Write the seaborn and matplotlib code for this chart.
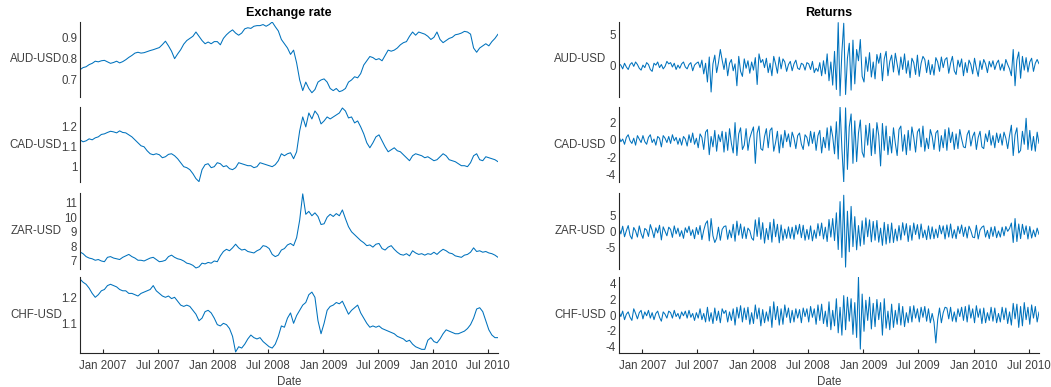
import numpy as np
import pandas as pd
import matplotlib
matplotlib.use("Agg")
import matplotlib.pyplot as plt
import matplotlib.dates as mdates
import seaborn as sns

# ---------------- data ----------------
start_date = "2006-10-16"
end_date = "2010-08-04"
pairs = ["AUD-USD", "CAD-USD", "ZAR-USD", "CHF-USD"]

# exchange-rate levels, ~3 readings per month (Oct 2006 .. Aug 2010)
aud_level = [0.748, 0.758,
    0.762, 0.772, 0.778, 0.788, 0.785, 0.790, 0.792, 0.785, 0.778, 0.782, 0.788, 0.780,
    0.786, 0.795, 0.806, 0.815, 0.826, 0.830, 0.826, 0.828, 0.833, 0.838, 0.842, 0.847,
    0.852, 0.866, 0.882, 0.860, 0.835, 0.800, 0.822, 0.842, 0.868, 0.885, 0.895, 0.905,
    0.925, 0.905, 0.885, 0.870, 0.878, 0.870, 0.880, 0.880, 0.865, 0.895, 0.912, 0.925,
    0.935, 0.920, 0.910, 0.920, 0.940, 0.945, 0.942, 0.952, 0.955, 0.955, 0.960, 0.952,
    0.960, 0.972, 0.950, 0.930, 0.890, 0.870, 0.850, 0.820, 0.840, 0.780, 0.700, 0.650,
    0.690, 0.660, 0.640, 0.655, 0.690, 0.700, 0.705, 0.690, 0.660, 0.650, 0.660, 0.645,
    0.650, 0.660, 0.690, 0.700, 0.715, 0.710, 0.730, 0.770, 0.790, 0.810, 0.805, 0.795,
    0.800, 0.790, 0.815, 0.840, 0.835, 0.840, 0.850, 0.865, 0.875, 0.880, 0.905, 0.925,
    0.910, 0.925, 0.920, 0.915, 0.905, 0.890, 0.900, 0.925, 0.890, 0.875, 0.885, 0.895,
    0.900, 0.912, 0.915, 0.920, 0.928, 0.925, 0.915, 0.850, 0.830, 0.850, 0.860, 0.870,
    0.860, 0.880, 0.895, 0.915]
cad_level = [1.135, 1.125,
    1.130, 1.140, 1.135, 1.145, 1.150, 1.162, 1.165, 1.172, 1.178, 1.175, 1.170, 1.180,
    1.172, 1.170, 1.160, 1.150, 1.135, 1.120, 1.105, 1.100, 1.080, 1.065, 1.060, 1.065,
    1.060, 1.045, 1.050, 1.062, 1.065, 1.055, 1.040, 1.020, 1.000, 0.995, 0.985, 0.965,
    0.940, 0.925, 0.985, 1.010, 1.015, 0.995, 1.000, 1.020, 1.015, 1.000, 1.005, 0.990,
    0.985, 0.995, 1.020, 1.015, 1.010, 1.005, 1.005, 0.995, 1.000, 1.020, 1.015, 1.010,
    1.005, 1.000, 1.010, 1.030, 1.065, 1.055, 1.065, 1.070, 1.040, 1.075, 1.180, 1.250,
    1.200, 1.270, 1.240, 1.280, 1.260, 1.215, 1.230, 1.250, 1.240, 1.250, 1.260, 1.270,
    1.295, 1.280, 1.245, 1.250, 1.220, 1.230, 1.200, 1.165, 1.120, 1.095, 1.120, 1.150,
    1.160, 1.130, 1.100, 1.075, 1.085, 1.095, 1.080, 1.075, 1.060, 1.045, 1.030, 1.055,
    1.065, 1.060, 1.055, 1.045, 1.050, 1.040, 1.030, 1.035, 1.050, 1.065, 1.055, 1.035,
    1.030, 1.025, 1.015, 1.005, 1.005, 1.000, 1.020, 1.055, 1.065, 1.035, 1.030, 1.050,
    1.045, 1.040, 1.035, 1.025]
zar_level = [7.62, 7.50,
    7.30, 7.20, 7.15, 7.05, 7.10, 7.00, 6.95, 7.25, 7.30, 7.20, 7.15, 7.10,
    7.25, 7.35, 7.45, 7.30, 7.20, 7.05, 7.05, 7.00, 7.10, 7.20, 7.25, 7.10,
    6.95, 6.98, 7.05, 7.30, 7.40, 7.25, 7.15, 7.10, 7.00, 6.85, 6.80, 6.70,
    6.52, 6.60, 6.85, 6.80, 6.90, 6.85, 7.00, 6.95, 7.35, 7.65, 7.80, 7.70,
    7.90, 8.15, 7.90, 7.75, 7.80, 7.65, 7.60, 7.55, 7.70, 7.80, 8.05, 8.00,
    7.85, 7.45, 7.30, 7.40, 7.75, 7.85, 8.10, 8.20, 8.05, 8.60, 9.80, 11.60,
    10.20, 10.40, 10.10, 10.30, 10.05, 9.50, 9.55, 10.00, 10.20, 10.05, 10.25, 10.10,
    10.50, 9.90, 9.35, 9.00, 8.80, 8.60, 8.40, 8.25, 8.05, 8.10, 7.95, 8.15,
    8.20, 7.85, 7.75, 7.95, 8.05, 7.80, 7.60, 7.45, 7.40, 7.50, 7.35, 7.70,
    7.55, 7.45, 7.50, 7.40, 7.50, 7.45, 7.60, 7.45, 7.65, 7.80, 7.70, 7.55,
    7.50, 7.35, 7.30, 7.25, 7.40, 7.45, 7.60, 7.90, 7.65, 7.70, 7.60, 7.65,
    7.55, 7.50, 7.40, 7.25]
chf_level = [1.270, 1.258,
    1.250, 1.235, 1.215, 1.200, 1.210, 1.225, 1.230, 1.245, 1.250, 1.245, 1.240, 1.230,
    1.225, 1.225, 1.215, 1.215, 1.210, 1.205, 1.215, 1.220, 1.225, 1.230, 1.245, 1.225,
    1.215, 1.205, 1.200, 1.205, 1.195, 1.200, 1.185, 1.170, 1.165, 1.170, 1.165, 1.150,
    1.135, 1.110, 1.120, 1.145, 1.150, 1.140, 1.120, 1.095, 1.090, 1.100, 1.095, 1.080,
    1.050, 0.990, 1.010, 1.005, 1.020, 1.040, 1.055, 1.045, 1.040, 1.045, 1.030, 1.020,
    1.010, 1.005, 1.020, 1.050, 1.090, 1.085, 1.120, 1.140, 1.100, 1.130, 1.150, 1.170,
    1.180, 1.210, 1.220, 1.200, 1.110, 1.060, 1.100, 1.150, 1.165, 1.170, 1.180, 1.175,
    1.185, 1.160, 1.135, 1.150, 1.160, 1.170, 1.140, 1.120, 1.100, 1.085, 1.090, 1.085,
    1.090, 1.080, 1.075, 1.070, 1.065, 1.060, 1.050, 1.045, 1.040, 1.030, 1.035, 1.020,
    1.010, 1.005, 1.000, 1.000, 1.035, 1.045, 1.030, 1.025, 1.040, 1.060, 1.075, 1.070,
    1.065, 1.060, 1.060, 1.065, 1.070, 1.080, 1.095, 1.120, 1.155, 1.160, 1.145, 1.110,
    1.075, 1.055, 1.045, 1.045]

# returns (%), ~5 readings per month
aud_ret = [0.3, 0.1, -0.5,
    0.4, -0.2, -0.6, 0.2, 0.5,   -0.1, 0.6, 0.2, -0.4, -0.7,
    0.1, -0.3, 0.5, 0.2, -0.6,   -0.9, 0.4, 0.1, 0.6, -0.3,   0.2, -0.5, -0.1, 0.7, 0.3,
    0.5, -0.2, 0.4, -0.6, 0.1,   -0.4, 0.3, 0.6, -0.2, -0.5,  0.2, 0.5, -0.8, 0.1, 0.4,
    0.6, -0.3, 0.9, -1.3, 0.4,   -2.6, 1.4, -4.2, 0.3, 1.7,   -1.1, 0.5, 2.6, 0.9, -0.6,
    1.2, -1.6, 0.4, 1.0, -0.8,   0.3, -3.2, 1.5, -0.9, -1.7,  1.1, -0.4, 0.8, -1.2, 0.6,
    -0.7, 1.3, -3.0, 1.9, 0.5,   1.0, -0.3, 1.2, -1.1, 0.4,   -1.6, 1.5, 0.3, -1.2, 1.4,
    -0.5, 1.1, 0.6, -0.9, 0.2,   0.7, -0.8, 0.3, 0.9, -0.4,   -0.6, 0.4, 0.2, -0.7, 0.5,
    0.3, -0.6, 0.7, -1.1, -0.4,  -0.9, 0.5, -1.6, 0.8, -1.3,  1.9, -2.4, 0.6, -3.1, 2.3,
    -3.8, 6.9, -4.8, 2.2, 6.8,   -4.6, 1.2, 3.6, -3.9, 4.1,   -2.9, 2.6, 0.8, 4.2, -1.7,
    -2.6, 1.4, -0.9, 2.1, -1.8,  0.6, -2.1, 1.8, 0.4, 2.0,    -2.4, 1.1, 2.3, -1.6, 0.7,
    1.7, -1.0, 2.0, 0.3, -1.5,   1.4, -0.6, 1.9, -1.2, 0.8,   -1.9, 1.2, 0.5, -1.4, 1.7,
    -1.7, 0.4, 1.5, 1.0, -1.1,   0.9, -1.4, 0.2, -1.5, 1.3,   0.6, -0.9, 1.4, -0.3, 1.0,
    1.3, -1.2, 0.4, 1.5, -0.8,   -1.4, 0.9, -0.2, 1.1, -1.6,  0.5, -1.1, 0.9, 0.2, -1.3,
    1.2, -0.4, -1.7, 0.8, -0.6,  1.0, 0.3, -1.1, 0.7, -0.2,   0.8, -0.6, 0.4, 0.9, -0.7,
    0.3, -0.8, 1.0, 0.2, -0.5,   -1.6, 2.6, -3.2, 0.9, 2.2,   -2.0, 1.5, -0.7, 1.3, -1.0,
    0.6, 1.2, -0.9, 0.4, 1.0,
    0.3]
cad_ret = [0.4, -0.2, 0.1,
    -0.5, 0.3, 0.6, -0.1, -0.4,  0.2, -0.6, 0.5, 0.1, -0.3,
    0.5, -0.2, -0.5, 0.3, 0.6,   -0.3, 0.1, -0.6, 0.4, 0.2,   -0.8, 0.5, 0.2, -0.3, 0.4,
    -0.4, 0.6, -0.1, 0.3, -0.5,  0.2, -0.6, 0.4, 0.1, -0.7,   0.6, -0.3, 0.8, -0.5, 0.2,
    -0.9, 0.7, 0.3, -1.1, 0.9,   1.2, -1.7, 0.4, -0.8, 1.1,   -1.3, 0.6, -0.2, 1.0, -1.4,
    0.9, -1.2, 1.3, -0.4, -1.5,  2.0, -1.8, 0.7, 1.4, -1.1,   -0.6, 1.3, -1.2, 0.2, 0.9,
    1.5, -2.7, 0.8, 1.6, -1.0,   -1.2, 0.4, 1.3, -0.9, 1.1,   1.4, -1.3, -0.3, 1.0, -1.5,
    0.6, -0.9, 1.1, -0.2, 0.7,   -0.8, 0.9, 0.2, -1.0, 0.5,   0.8, -0.5, -1.1, 0.6, 0.3,
    -0.7, 1.0, -0.4, 0.9, -1.2,  0.5, 1.1, -1.5, 0.3, -0.9,   1.4, -1.2, 1.6, 0.4, -1.6,
    2.1, -2.2, 3.8, -1.0, -4.9,  3.7, -3.4, 1.5, 3.0, -2.7,   2.2, -2.5, 0.8, 2.3, -1.4,
    -2.0, 1.7, -0.6, 1.9, -1.8,  1.3, -1.6, 2.0, 0.5, -3.0,   1.9, -1.2, 1.6, -1.7, 0.4,
    -1.5, 1.4, -0.4, -1.8, 1.2,  1.6, -1.3, 0.6, -1.7, 1.1,   -1.2, 1.5, 0.3, -1.4, 0.9,
    1.3, -0.8, 1.6, -1.3, 0.2,   -1.0, 1.2, 0.4, -1.1, 0.8,   1.1, -1.3, 0.5, -0.9, 1.2,
    -1.2, 1.4, -0.3, 0.9, -1.1,  0.7, -1.0, 1.2, 0.1, -0.8,   -0.9, 0.6, 1.1, -0.7, 0.4,
    0.9, -1.1, 0.3, 1.0, -0.8,   -1.0, 0.7, -0.2, 1.1, -0.6,  0.5, -0.9, 0.8, -0.3, 0.7,
    -0.6, 0.9, 0.2, -1.0, 0.5,   1.7, -1.8, 0.6, 1.4, -1.5,   -1.2, 1.0, -0.5, 2.5, -1.1,
    1.1, -1.2, 0.4, -1.3, 0.9,
    -0.4]
zar_ret = [1.2, -0.6, 1.8,
    -1.5, 0.4, 2.0, -1.1, -2.2,  1.4, 0.3, -1.6, 1.9, -0.5,
    -2.0, 1.1, 0.6, -1.4, 2.3,   0.5, -1.8, 1.3, -0.3, 2.1,   -2.5, 1.6, 0.2, -1.2, 1.5,
    0.8, -1.7, 1.9, -0.6, 1.2,   -1.4, 0.4, -2.0, 1.3, -0.2,  1.8, -1.1, 0.7, -2.1, 1.4,
    -0.8, 2.0, -2.4, 0.5, 2.6,   3.5, -2.8, 4.2, -1.2, -3.3,  -2.0, 1.5, -2.6, 0.8, 1.7,
    1.9, -2.3, 0.6, -1.8, 2.4,   -2.9, 3.4, -1.0, 2.5, -2.0,  1.6, -2.1, 1.2, 0.4, -1.9,
    -2.6, 3.8, -1.4, 4.5, -2.3,  2.9, -3.5, 1.1, -2.4, 3.0,   -3.2, 4.0, -1.5, 2.4, -3.4,
    2.2, -2.6, 0.9, -2.0, 1.6,   -2.0, 1.5, -2.3, 2.1, -0.7,  2.4, -1.8, 2.1, -2.6, 0.8,
    -2.3, 1.9, -2.8, 0.6, -2.0,  2.6, -1.2, 2.8, -2.2, 1.5,   -3.0, 3.9, -1.6, 4.2, -2.7,
    6.0, -5.5, 9.5, -8.0, 11.5,  -11.0, 6.5, -6.2, 8.0, -4.6, 4.8, -5.6, 2.0, -4.4, 3.5,
    -3.9, 4.4, -1.5, 3.8, -3.1,  3.3, -2.6, 3.6, -3.2, 1.2,   -4.2, 3.0, -3.8, 2.4, -3.4,
    2.8, -3.3, 0.9, -2.8, 2.0,   -2.5, 2.9, -1.0, 2.6, -3.0,  2.0, -2.6, 2.8, -0.8, 2.3,
    -2.2, 2.5, -1.8, 0.6, -2.4,  1.9, -2.2, 1.6, -2.1, 0.9,   -1.8, 2.1, -0.6, 1.9, -2.2,
    2.2, -1.6, 2.5, -1.9, 0.7,   -2.1, 1.8, -0.5, 2.2, -1.4,  1.5, -1.9, 1.8, 0.4, -1.6,
    -1.8, 2.1, -2.2, 0.6, 1.5,   1.9, -1.6, 0.5, -2.1, 1.5,   -1.4, 1.7, -1.8, 0.3, -1.6,
    1.5, -1.2, 1.7, 0.2, 1.1,    2.8, -3.3, 4.2, -3.0, 2.5,   -2.1, 2.4, -0.8, 1.9, -2.2,
    1.7, -1.9, 0.6, -1.5, 1.2,
    -0.8]
chf_ret = [0.4, -0.2, 0.5,
    -0.6, 0.1, 0.4, -0.3, -0.7,  0.8, 0.2, -0.5, 0.3, 0.6,
    -0.5, 0.4, -0.1, 0.6, -0.4,  0.3, -0.6, 0.2, 0.5, -0.3,   -0.8, 0.4, 0.1, -0.4, 0.5,
    0.3, -0.4, 0.6, -0.2, 0.2,   -0.5, 0.4, -0.1, 0.5, -0.4,  0.6, -0.3, 0.2, -0.7, 0.3,
    -0.4, 0.8, -0.6, 0.2, -0.9,  1.0, -0.8, 0.3, -1.1, 0.9,   -0.7, 0.5, -1.0, 0.8, 0.2,
    0.6, -0.9, 0.4, -0.7, 0.8,   -1.3, 1.0, -0.4, 1.2, -0.9,  0.9, -0.6, 1.0, -1.2, 0.3,
    -1.1, 1.3, -0.5, 0.9, -1.4,  0.7, -1.0, 0.4, -0.8, 1.1,   -1.6, 1.7, -0.6, 1.1, -1.3,
    0.8, -1.2, 1.3, -0.3, 0.9,   -1.0, 0.6, -0.9, 0.8, -0.4,  0.7, -1.0, 0.9, -0.2, 0.8,
    -0.9, 1.1, -0.3, 0.8, -1.2,  1.3, -0.7, 1.4, -1.1, 0.5,   -1.5, 1.7, -1.9, 0.6, -1.4,
    2.1, -2.3, 1.0, -2.6, 2.5,   -1.9, 2.3, -0.8, 2.1, -2.5,  1.6, -2.9, 4.9, -4.4, 2.7,
    -2.1, 1.9, -0.7, 2.3, -1.8,  1.5, -1.5, 2.0, -0.6, 1.6,   -2.6, 2.1, -1.7, 0.5, -1.9,
    1.4, -1.6, 0.6, -1.2, 1.5,   -1.3, 1.1, -1.5, 0.3, -1.0,  1.1, -0.9, 1.2, -0.4, 0.8,
    -0.9, 1.0, -0.3, 1.1, -0.8,  0.8, -1.0, 0.2, -0.9, -3.6,  -0.6, 0.9, -1.0, 0.3, 1.0,
    0.9, -0.5, 1.0, -0.8, 0.4,   -0.9, 0.8, -0.2, 1.0, -0.7,  1.1, -0.9, 1.3, -0.4, 0.8,
    -1.0, 1.2, -0.3, 0.8, -1.1,  0.9, -1.0, 0.3, -0.7, 1.0,   -0.8, 0.9, -1.0, 0.2, -0.9,
    1.0, -0.6, 0.9, -1.1, 0.4,   -1.3, 1.5, -0.5, 1.4, -1.6,  1.1, -1.4, 1.6, -0.6, 1.0,
    -1.2, 1.3, -0.4, 1.1, -0.9,
    0.4]

levels = [aud_level, cad_level, zar_level, chf_level]
returns = [aud_ret, cad_ret, zar_ret, chf_ret]

# ---------------- styling ----------------
sns.set_style("white")
plt.rcParams["font.family"] = ["Liberation Sans", "DejaVu Sans"]
FS = 8.3

LINE = "#0072BD"
AX = "#262626"
TXT = "#404040"

level_ylim = [(0.62, 0.972), (0.923, 1.298), (6.45, 11.66), (0.986, 1.278)]
level_ticks = [([0.7, 0.8, 0.9], ["0.7", "0.8", "0.9"]),
               ([1.0, 1.1, 1.2, 1.3], ["1", "1.1", "1.2", ""]),
               ([7, 8, 9, 10, 11], ["7", "8", "9", "10", "11"]),
               ([1.0, 1.1, 1.2], ["", "1.1", "1.2"])]
ret_ylim = [(-5.0, 7.0), (-4.85, 3.8), (-11.6, 12.2), (-4.9, 4.9)]
ret_ticks = [([-5, 0, 5], ["", "0", "5"]),
             ([-4, -2, 0, 2], ["-4", "-2", "0", "2"]),
             ([-5, 0, 5], ["-5", "0", "5"]),
             ([-4, -2, 0, 2, 4], ["-4", "-2", "0", "2", "4"])]

W, H = 1051, 387
rows_px = [(22, 97), (107, 182), (193, 269), (277, 353)]
cols_px = [(80, 498), (619, 1039)]
label_x = [-0.043, -0.031]

fig = plt.figure(figsize=(W / 100, H / 100), dpi=100)
t0, t1 = pd.Timestamp(start_date), pd.Timestamp(end_date)

for c, (data, ylims, ticks, title) in enumerate(
        [(levels, level_ylim, level_ticks, "Exchange rate"),
         (returns, ret_ylim, ret_ticks, "Returns")]):
    x0, x1 = cols_px[c]
    for r, (name, vals) in enumerate(zip(pairs, data)):
        top, bot = rows_px[r]
        ax = fig.add_axes([x0 / W, 1 - bot / H, (x1 - x0) / W, (bot - top) / H])
        df = pd.DataFrame({"Date": pd.date_range(t0, t1, periods=len(vals)),
                           "value": vals})
        sns.lineplot(data=df, x="Date", y="value", ax=ax, color=LINE, lw=0.75)
        ax.set_xlim(t0, t1)
        ax.set_ylim(*ylims[r])
        ax.set_yticks(ticks[r][0])
        ax.set_yticklabels(ticks[r][1])
        for s in ["top", "right"]:
            ax.spines[s].set_visible(False)
        ax.spines["left"].set_color(AX)
        ax.spines["left"].set_linewidth(0.8)
        ax.tick_params(axis="y", direction="in", length=3, width=0.8,
                       color=AX, labelcolor=TXT, labelsize=FS, pad=2)
        ax.set_ylabel(name, rotation=0, ha="right", va="center", color=TXT, fontsize=FS)
        ax.yaxis.set_label_coords(label_x[c], 0.5)
        ax.xaxis.set_major_locator(mdates.MonthLocator(bymonth=[1, 7]))
        ax.xaxis.set_major_formatter(mdates.DateFormatter("%b %Y"))
        if r < 3:
            ax.spines["bottom"].set_visible(False)
            ax.tick_params(axis="x", bottom=False, labelbottom=False)
            ax.set_xlabel("")
        else:
            ax.spines["bottom"].set_color(AX)
            ax.spines["bottom"].set_linewidth(0.8)
            ax.tick_params(axis="x", direction="in", length=3, width=0.8,
                           color=AX, labelcolor=TXT, labelsize=FS, pad=5, bottom=True)
            ax.set_xlabel("Date", color=TXT, fontsize=FS, labelpad=3)
        if r == 0:
            ax.set_title(title, fontsize=9, fontweight="bold", color="black", pad=4)

fig.savefig("out.png", dpi=100)
